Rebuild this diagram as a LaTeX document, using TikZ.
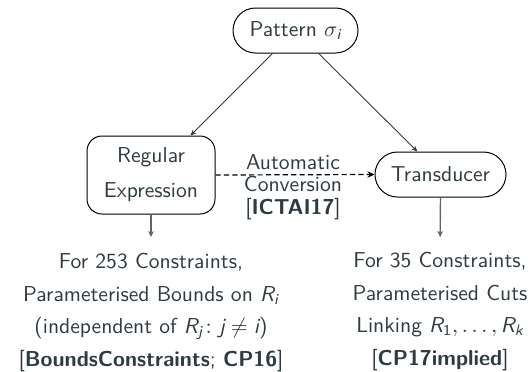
\documentclass[tikz,border=0pt]{standalone}
\usepackage{amsmath}
\usetikzlibrary{arrows.meta}
\renewcommand{\familydefault}{\sfdefault}
\newcommand{\mv}[1]{\textit{#1}}
\definecolor{textc}{HTML}{2E3B40}
\definecolor{downc}{HTML}{5E686C}
\begin{document}
\begin{tikzpicture}[x=0.5pt,y=-0.5pt,
  every node/.style={text=textc, font={\fontsize{10.8}{16.25}\selectfont}},
  pill/.style={draw=black, line width=0.5pt, inner sep=0pt, align=center,
    minimum height=22.5pt, rounded corners=11.25pt},
  rbox/.style={draw=black, line width=0.5pt, inner sep=0pt, align=center,
    minimum width=64pt, minimum height=39pt, rounded corners=7.5pt,
    font={\fontsize{10.8}{17.5}\selectfont}},
  diag/.style={draw=textc, line width=0.45pt, -{Stealth[length=3pt,width=2.6pt]}},
  down/.style={draw=downc, line width=0.7pt, -{Stealth[length=3pt,width=2.8pt,fill=textc]}},
  dasharr/.style={draw=black, line width=0.6pt, dash pattern=on 2.6pt off 1.6pt,
    -{Stealth[length=3.5pt,width=3.2pt]}},
  txt/.style={align=center, inner sep=0pt, anchor=north}
]
\useasboundingbox (0,0) rectangle (529,371);
\node[pill, minimum width=62.5pt] (pat) at (295.5,30.5) {Pattern $\sigma_{\mv{i}}$};
\node[rbox] (reg) at (151,175) {Regular\\Expression};
\node[pill, minimum width=65.5pt] (tra) at (440.5,174.5) {Transducer};
\node[txt, font={\fontsize{10.8}{11.25}\selectfont}] (conv) at (293,154)
  {Automatic\\Conversion\\{[}\textbf{ICTAI17}]};
\node[txt] (lt) at (151,253)
  {For 253 Constraints,\\
   Parameterised Bounds on $\mv{R}_{\mv{i}}$\\
   (independent of $\mv{R}_{\mv{j}}\colon \mv{j}\neq \mv{i}$)\\
   {[}\textbf{BoundsConstraints}; \textbf{CP16}]};
\node[txt] (rt) at (440,252)
  {For 35 Constraints,\\
   Parameterised Cuts\\
   Linking $\mv{R}_{\text{1}},\ldots,\mv{R}_{\mv{k}}$\\
   {[}\textbf{CP17implied}]};
\draw[diag] (pat) -- (reg);
\draw[diag] (pat) -- (tra);
\draw[dasharr] (reg.east) -- (tra.west);
\draw[down, shorten >=8pt] (reg.south) -- (lt.north);
\draw[down, shorten >=7.5pt] (tra.south) -- (rt.north);
\end{tikzpicture}
\end{document}
